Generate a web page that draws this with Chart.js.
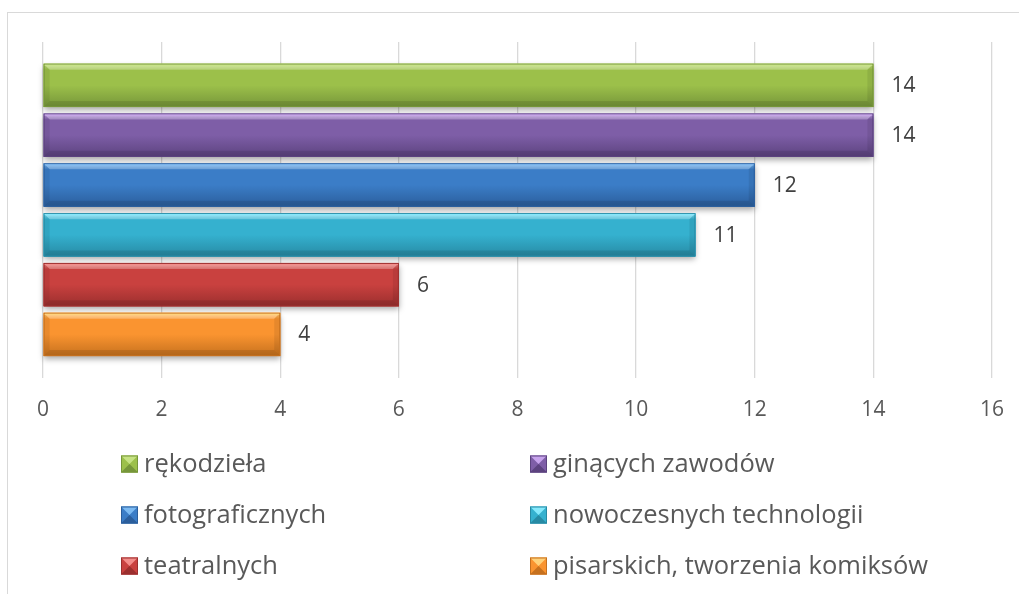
<!DOCTYPE html>
<html>
<head>
<meta charset="utf-8">
<script src="https://cdn.jsdelivr.net/npm/chart.js@4/dist/chart.umd.min.js"></script>
<style>
    body { margin: 0; background: #fff; overflow: hidden; }
    #frame { position: absolute; left: 7px; top: 12px; width: 1100px; height: 700px; border: 1px solid #d9d9d9; }
    #chart { position: absolute; left: 0; top: 0; }
</style>
</head>
<body>
<div id="frame"></div>
<canvas id="chart" width="1019" height="594"></canvas>
<script>
const seriesNames = ['rękodzieła', 'ginących zawodów', 'fotograficznych', 'nowoczesnych technologii', 'teatralnych', 'pisarskich, tworzenia komiksów'];
const seriesValues = [14, 14, 12, 11, 6, 4];
const axisMin = 0;
const axisMax = 16;
const axisStep = 2;

// light / main / dark shades for each series
const seriesShades = [
    ['#c6e283', '#9cc04a', '#76963a'],
    ['#c7a3ec', '#7e5ea7', '#5c437f'],
    ['#7cbaf2', '#3b7dc7', '#2b5e9c'],
    ['#86e9fc', '#35b1cf', '#278aa4'],
    ['#f38d8a', '#c9413f', '#9b2f2e'],
    ['#ffd27a', '#fa9430', '#c6711e']
];

const FONT = '"Open Sans", sans-serif';

function barRect(bar) {
    const left = Math.min(bar.x, bar.base);
    const right = Math.max(bar.x, bar.base);
    const top = bar.y - bar.height / 2;
    return { left, right, top, bottom: top + bar.height };
}

// drop shadow under each bar
const shadowPlugin = {
    id: 'shadows',
    beforeDatasetsDraw(chart) {
        const ctx = chart.ctx;
        ctx.save();
        chart.data.datasets.forEach((ds, i) => {
            chart.getDatasetMeta(i).data.forEach(bar => {
                const r = barRect(bar);
                ctx.shadowColor = 'rgba(0,0,0,0.35)';
                ctx.shadowBlur = 6;
                ctx.shadowOffsetY = 3;
                ctx.fillStyle = seriesShades[i][1];
                ctx.fillRect(r.left, r.top, r.right - r.left, r.bottom - r.top);
            });
        });
        ctx.restore();
    }
};

// bevelled look on top of the plain bars
const bevelPlugin = {
    id: 'bevel',
    afterDatasetsDraw(chart) {
        const ctx = chart.ctx;
        const b = 6;
        ctx.save();
        chart.data.datasets.forEach((ds, i) => {
            const [light, main, dark] = seriesShades[i];
            chart.getDatasetMeta(i).data.forEach(bar => {
                const { left: L, right: R, top: T, bottom: B } = barRect(bar);
                const g = ctx.createLinearGradient(0, T, 0, B);
                g.addColorStop(0, light);
                g.addColorStop(0.14, main);
                g.addColorStop(0.5, main);
                g.addColorStop(1, dark);
                ctx.fillStyle = g;
                ctx.fillRect(L, T, R - L, B - T);

                const facet = (pts, style) => {
                    ctx.beginPath();
                    ctx.moveTo(pts[0][0], pts[0][1]);
                    pts.slice(1).forEach(p => ctx.lineTo(p[0], p[1]));
                    ctx.closePath();
                    ctx.fillStyle = style;
                    ctx.fill();
                };
                facet([[L, T], [R, T], [R - b, T + b], [L + b, T + b]], 'rgba(255,255,255,0.25)');
                facet([[L, B], [R, B], [R - b, B - b], [L + b, B - b]], 'rgba(0,0,0,0.10)');
                facet([[L, T], [L + b, T + b], [L + b, B - b], [L, B]], 'rgba(0,0,0,0.07)');
                facet([[R, T], [R - b, T + b], [R - b, B - b], [R, B]], 'rgba(0,0,0,0.08)');

                ctx.strokeStyle = dark;
                ctx.lineWidth = 1;
                ctx.strokeRect(L + 0.5, T + 0.5, R - L - 1, B - T - 1);
                ctx.strokeStyle = light;
                ctx.beginPath();
                ctx.moveTo(L + 1, T + 1.5);
                ctx.lineTo(R - 1, T + 1.5);
                ctx.stroke();
            });
        });
        ctx.restore();
    }
};

// value text to the right of each bar
const valueLabelPlugin = {
    id: 'valueLabels',
    afterDatasetsDraw(chart) {
        const ctx = chart.ctx;
        ctx.save();
        ctx.font = '21px ' + FONT;
        ctx.fillStyle = '#404040';
        ctx.textAlign = 'left';
        ctx.textBaseline = 'middle';
        chart.data.datasets.forEach((ds, i) => {
            chart.getDatasetMeta(i).data.forEach((bar, j) => {
                ctx.fillText(String(ds.data[j]), bar.x + 18, bar.y + 1);
            });
        });
        ctx.restore();
    }
};

// two-column legend under the axis
const legendPlugin = {
    id: 'gridLegend',
    afterDraw(chart) {
        const ctx = chart.ctx;
        const colX = [121, 530];
        const rowY = [464, 515, 566];
        const s = 17;
        ctx.save();
        ctx.font = '25.5px ' + FONT;
        ctx.textBaseline = 'middle';
        chart.data.datasets.forEach((ds, i) => {
            const x = colX[i % 2];
            const y = rowY[Math.floor(i / 2)];
            const [light, main, dark] = seriesShades[i];
            const top = y - s / 2;
            ctx.fillStyle = main;
            ctx.fillRect(x, top, s, s);
            ctx.fillStyle = light;
            ctx.beginPath();
            ctx.moveTo(x, top);
            ctx.lineTo(x + s, top);
            ctx.lineTo(x + s / 2, top + s / 2);
            ctx.closePath();
            ctx.fill();
            ctx.fillStyle = dark;
            ctx.beginPath();
            ctx.moveTo(x, top + s);
            ctx.lineTo(x + s, top + s);
            ctx.lineTo(x + s / 2, top + s / 2);
            ctx.closePath();
            ctx.fill();
            ctx.strokeStyle = dark;
            ctx.lineWidth = 1;
            ctx.strokeRect(x + 0.5, top + 0.5, s - 1, s - 1);
            ctx.fillStyle = '#595959';
            ctx.fillText(ds.label, x + s + 6, y + 1);
        });
        ctx.restore();
    }
};

const datasets = seriesNames.map((name, i) => ({
    label: name,
    data: [seriesValues[i]],
    backgroundColor: seriesShades[i][1],
    borderWidth: 0,
    categoryPercentage: 0.89,
    barPercentage: 0.87
}));

new Chart(document.getElementById('chart').getContext('2d'), {
    type: 'bar',
    data: { labels: [''], datasets },
    plugins: [shadowPlugin, bevelPlugin, valueLabelPlugin, legendPlugin],
    options: {
        indexAxis: 'y',
        responsive: false,
        animation: false,
        layout: { autoPadding: false, padding: { left: 43, right: 27, top: 42, bottom: 151 } },
        scales: {
            x: {
                min: axisMin,
                max: axisMax,
                ticks: { stepSize: axisStep, color: '#595959', font: { family: FONT, size: 21 }, padding: 20 },
                grid: { color: '#d9d9d9', lineWidth: 1.3, drawTicks: false },
                border: { display: false },
                afterFit(scale) {
                    // the outer padding already leaves room for the end labels
                    scale.paddingLeft = 0;
                    scale.paddingRight = 0;
                }
            },
            y: { display: false }
        },
        plugins: {
            legend: { display: false },
            tooltip: { enabled: false }
        }
    }
});
</script>
</body>
</html>
